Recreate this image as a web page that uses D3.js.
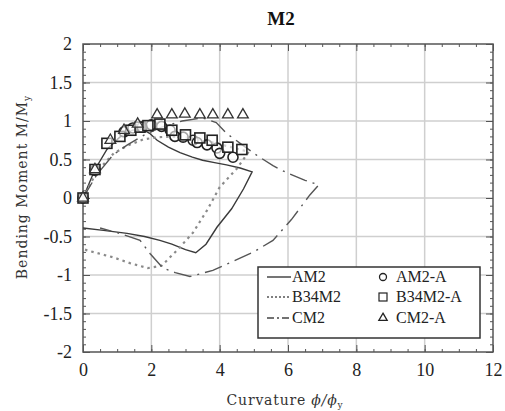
<!DOCTYPE html>
<html><head><meta charset="utf-8">
<script src="https://cdn.jsdelivr.net/npm/d3@7"></script>
<style>body{margin:0;background:#fff}</style>
</head><body>
<svg id="c" width="505" height="411"></svg>
<script>
const xTicks = [0,2,4,6,8,10,12];
const yTicks = [-2,-1.5,-1,-0.5,0,0.5,1,1.5,2];
const yTickLabels = ["-2","-1.5","-1","-0.5","0","0.5","1","1.5","2"];

const am2 = [[0,0],[0.35,0.37],[0.7,0.63],[1.1,0.8],[1.45,0.88],[1.7,0.9],[1.95,0.84],[2.17,0.75],[2.5,0.66],[2.84,0.59],[3.2,0.53],[3.5,0.49],[3.85,0.46],[4.2,0.43],[4.6,0.39],[4.95,0.34],[4.7,0.12],[4.35,-0.14],[3.92,-0.38],[3.6,-0.6],[3.3,-0.71],[3.0,-0.67],[2.6,-0.6],[2.25,-0.55],[1.8,-0.5],[1.29,-0.46],[0.6,-0.42],[0,-0.39]];
const b34m2 = [[0,0],[0.4,0.34],[0.9,0.58],[1.3,0.68],[1.76,0.76],[2.2,0.79],[2.8,0.8],[3.4,0.76],[4.0,0.7],[4.5,0.64],[4.85,0.6],[4.5,0.38],[4.0,0.14],[3.63,-0.16],[3.22,-0.45],[2.75,-0.68],[2.3,-0.88],[1.9,-0.91],[1.4,-0.85],[0.88,-0.77],[0.12,-0.68],[0,-0.66]];
const cm2 = [[0,0],[0.4,0.3],[0.88,0.56],[1.3,0.69],[1.8,0.82],[2.3,0.92],[2.9,1.0],[3.5,1.04],[3.9,0.98],[4.2,0.84],[4.6,0.71],[5.1,0.55],[5.56,0.42],[6.0,0.32],[6.5,0.23],[6.9,0.17],[6.64,0.04],[6.1,-0.28],[5.56,-0.55],[5.0,-0.7],[4.5,-0.8],[3.8,-0.94],[3.13,-1.02],[2.7,-0.97],[2.34,-0.91],[1.96,-0.72],[1.67,-0.55],[1.0,-0.45],[0.5,-0.39]];

const am2A = [[0,0],[0.35,0.36],[1.2,0.86],[1.46,0.91],[1.73,0.92],[2.0,0.95],[2.3,0.93],[2.55,0.88],[2.69,0.8],[2.93,0.79],[3.22,0.75],[3.34,0.72],[3.63,0.69],[3.92,0.65],[4.0,0.58],[4.39,0.53]];
const b34m2A = [[0,0],[0.35,0.37],[0.7,0.71],[1.08,0.8],[1.4,0.88],[1.67,0.92],[1.9,0.94],[2.25,0.96],[2.6,0.88],[3.0,0.82],[3.42,0.78],[3.78,0.75],[4.24,0.66],[4.65,0.63]];
const cm2A = [[0,0],[0.35,0.37],[0.8,0.75],[1.2,0.88],[1.6,0.96],[2.17,1.08],[2.6,1.08],[2.98,1.09],[3.42,1.08],[3.8,1.08],[4.24,1.08],[4.68,1.08]];

const legendLines = ["AM2","B34M2","CM2"];
const legendMarkers = ["AM2-A","B34M2-A","CM2-A"];

const svg = d3.select("#c");
const L=83,R=493,T=44,B=352;
const x = d3.scaleLinear().domain([0,12]).range([L,R]);
const y = d3.scaleLinear().domain([-2,2]).range([B,T]);
const serif = "'Liberation Serif','Times New Roman',serif";

// grid
const g = svg.append("g");
g.selectAll(".gx").data(xTicks.slice(1,-1)).enter().append("line")
 .attr("x1",d=>x(d)).attr("x2",d=>x(d)).attr("y1",T).attr("y2",B)
 .attr("stroke","#cfcfcf").attr("stroke-width",1.5);
g.selectAll(".gy").data(yTicks.slice(1,-1)).enter().append("line")
 .attr("y1",d=>y(d)).attr("y2",d=>y(d)).attr("x1",L).attr("x2",R)
 .attr("stroke","#cfcfcf").attr("stroke-width",1.5);

// axes with inward ticks on all sides
function ax(axis, tr){ const a=svg.append("g").attr("transform",tr).call(axis);
  a.select(".domain").remove(); a.selectAll("line").attr("stroke","#555"); return a; }
const xMinor = d3.range(0,12.01,0.5), yMinor = d3.range(-2,2.001,0.1);
ax(d3.axisBottom(x).tickValues(xMinor).tickSize(-3).tickFormat(""),`translate(0,${B})`);
ax(d3.axisTop(x).tickValues(xMinor).tickSize(-3).tickFormat(""),`translate(0,${T})`);
ax(d3.axisLeft(y).tickValues(yMinor).tickSize(-3).tickFormat(""),`translate(${L},0)`);
ax(d3.axisRight(y).tickValues(yMinor).tickSize(-3).tickFormat(""),`translate(${R},0)`);
ax(d3.axisTop(x).tickValues(xTicks).tickSize(-7).tickFormat(""),`translate(0,${T})`);
ax(d3.axisRight(y).tickValues(yTicks).tickSize(-7).tickFormat(""),`translate(${R},0)`);
const xb = ax(d3.axisBottom(x).tickValues(xTicks).tickSize(-7).tickPadding(11).tickFormat(d3.format("d")),`translate(0,${B})`);
xb.selectAll("text").attr("font-family",serif).attr("font-size",18).attr("fill","#222");
const yl = ax(d3.axisLeft(y).tickValues(yTicks).tickSize(-7).tickPadding(11).tickFormat((d,i)=>yTickLabels[i]),`translate(${L},0)`);
yl.selectAll("text").attr("font-family",serif).attr("font-size",18).attr("fill","#222");

svg.append("rect").attr("x",L).attr("y",T).attr("width",R-L).attr("height",B-T)
 .attr("fill","none").attr("stroke","#555").attr("stroke-width",1.5);

const line = d3.line().x(d=>x(d[0])).y(d=>y(d[1]));
svg.append("clipPath").attr("id","pc").append("rect").attr("x",L).attr("y",T).attr("width",R-L).attr("height",B-T);
const plot = svg.append("g").attr("clip-path","url(#pc)");
plot.append("path").datum(am2).attr("d",line).attr("fill","none").attr("stroke","#3a3a3a").attr("stroke-width",1.4);
plot.append("path").datum(b34m2).attr("d",line).attr("fill","none").attr("stroke","#8a8a8a").attr("stroke-width",2.2).attr("stroke-dasharray","2.5,4");
plot.append("path").datum(cm2).attr("d",line).attr("fill","none").attr("stroke","#555").attr("stroke-width",1.4).attr("stroke-dasharray","18,6,2,6");

// markers
const mk = svg.append("g");
mk.selectAll(".ci").data(am2A).enter().append("circle").attr("cx",d=>x(d[0])).attr("cy",d=>y(d[1])).attr("r",5)
 .attr("fill","#fff").attr("fill-opacity",0.6).attr("stroke","#222").attr("stroke-width",1.6);
mk.selectAll(".sq").data(b34m2A).enter().append("rect").attr("x",d=>x(d[0])-5).attr("y",d=>y(d[1])-5).attr("width",10).attr("height",10)
 .attr("fill","#fff").attr("fill-opacity",0.6).attr("stroke","#222").attr("stroke-width",1.6);
const tri = d3.symbol().type(d3.symbolTriangle).size(50);
mk.selectAll(".tr").data(cm2A).enter().append("path").attr("d",tri).attr("transform",d=>`translate(${x(d[0])},${y(d[1])})`)
 .attr("fill","#fff").attr("fill-opacity",0.6).attr("stroke","#333").attr("stroke-width",1.3);

// legend
const lg = svg.append("g");
lg.append("rect").attr("x",258).attr("y",267).attr("width",222).attr("height",71).attr("fill","#fff").attr("stroke","#333").attr("stroke-width",1.5);
const rows=[282,302,323];
const styles=[{c:"#3a3a3a",w:1.4,d:null},{c:"#555",w:1.5,d:"2,2"},{c:"#444",w:1.4,d:"7,3,2,3"}];
legendLines.forEach((t,i)=>{
  lg.append("line").attr("x1",267).attr("x2",291).attr("y1",rows[i]-5).attr("y2",rows[i]-5)
   .attr("stroke",styles[i].c).attr("stroke-width",styles[i].w).attr("stroke-dasharray",styles[i].d);
  lg.append("text").attr("x",292).attr("y",rows[i]).text(t).attr("font-family",serif).attr("font-size",16).attr("fill","#222");
});
lg.append("circle").attr("cx",383).attr("cy",rows[0]-5).attr("r",3.5).attr("fill","none").attr("stroke","#222").attr("stroke-width",1.3);
lg.append("rect").attr("x",379).attr("y",rows[1]-9).attr("width",8).attr("height",8).attr("fill","none").attr("stroke","#222").attr("stroke-width",1.2);
lg.append("path").attr("d",d3.symbol().type(d3.symbolTriangle).size(30)).attr("transform",`translate(383,${rows[2]-5})`).attr("fill","none").attr("stroke","#222").attr("stroke-width",1.3);
legendMarkers.forEach((t,i)=>{
  lg.append("text").attr("x",396).attr("y",rows[i]).text(t).attr("font-family",serif).attr("font-size",16).attr("fill","#222");
});

// titles
svg.append("text").attr("x",281).attr("y",25).attr("text-anchor","middle").text("M2")
 .attr("font-family",serif).attr("font-weight","bold").attr("font-size",19).attr("fill","#111");
const xt = svg.append("text").attr("x",285).attr("y",405).attr("text-anchor","middle")
 .attr("font-family","'DejaVu Serif',serif").attr("font-size",14).attr("letter-spacing",0.8).attr("fill","#333");
xt.append("tspan").text("Curvature ");
xt.append("tspan").text("ϕ/ϕ").attr("font-style","italic");
xt.append("tspan").text("y").attr("font-size",9).attr("dy",3);
const yt = svg.append("text").attr("transform","translate(27,187) rotate(-90)").attr("text-anchor","middle")
 .attr("font-family","'DejaVu Serif',serif").attr("font-size",14).attr("letter-spacing",1).attr("fill","#333");
yt.append("tspan").text("Bending Moment M/M");
yt.append("tspan").text("y").attr("font-size",9).attr("dy",3);
</script>
</body></html>
